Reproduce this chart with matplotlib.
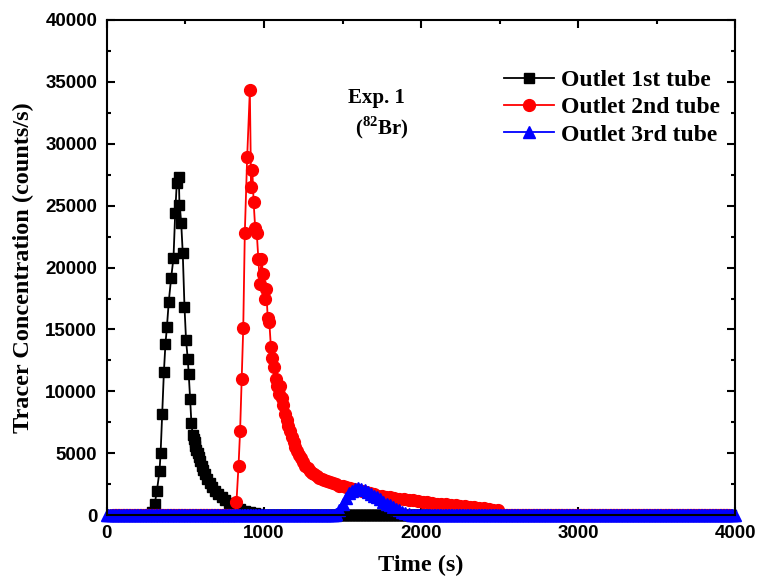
import matplotlib
matplotlib.use('Agg')
import matplotlib.pyplot as plt
from matplotlib.ticker import MultipleLocator
import numpy as np

# tracer readings (time in s, concentration in counts/s)
t_1st = [290, 304, 318, 335, 342, 352, 363, 373, 382, 394, 409, 424, 435, 445, 458, 462,
         473, 483, 494, 504, 515, 521, 530, 538, 546, 552, 558, 564, 570, 578, 586, 594,
         604, 614, 626, 640, 655, 670, 690, 710, 730, 750, 775, 800, 825, 850, 880, 910,
         940, 970, 1000]
c_1st = [300, 890, 1940, 3560, 5020, 8180, 11600, 13870, 15170, 17250, 19160, 20780, 24430,
         26830, 27310, 25020, 23620, 21160, 16840, 14140, 12580, 11390, 9390, 7450, 6500,
         6200, 5900, 5600, 5300, 5000, 4700, 4400, 4000, 3700, 3300, 2950, 2600, 2300, 1950,
         1700, 1450, 1250, 1000, 820, 650, 500, 370, 260, 170, 100, 40]

t_2nd = [825, 838, 848, 858, 868, 878, 893, 910, 918, 926, 934, 944, 954, 964, 974, 984,
         994, 1004, 1014, 1024, 1034, 1044, 1054, 1064, 1074, 1084, 1094, 1104, 1114, 1124,
         1134, 1144, 1154, 1164, 1176, 1188, 1200, 1212, 1224, 1236, 1250, 1264, 1278, 1292,
         1306, 1320, 1336, 1352, 1368, 1384, 1400, 1420, 1440, 1460, 1480, 1500, 1525, 1550,
         1575, 1600, 1625, 1650, 1675, 1700, 1725, 1750, 1775, 1800, 1830, 1860, 1890, 1920,
         1950, 1980, 2010, 2040, 2070, 2100, 2130, 2160, 2190, 2220, 2250, 2280, 2310, 2340,
         2370, 2400, 2430, 2460, 2490]
c_2nd = [1100, 4000, 6800, 11000, 15100, 22800, 28900, 34300, 26500, 27900, 25300, 23200,
         22800, 20700, 18700, 20700, 19500, 17500, 18300, 15900, 15600, 13600, 12700, 12000,
         11000, 10400, 9800, 10400, 9500, 8900, 8200, 7700, 7200, 6800, 6300, 5900, 5500,
         5200, 4900, 4600, 4300, 4000, 3800, 3600, 3400, 3300, 3150, 3050, 2950, 2850, 2800,
         2700, 2600, 2500, 2400, 2350, 2250, 2200, 2100, 2050, 2000, 1900, 1800, 1700, 1600,
         1550, 1500, 1450, 1400, 1350, 1300, 1250, 1200, 1150, 1100, 1050, 1000, 950, 920,
         880, 850, 800, 760, 720, 680, 640, 600, 560, 520, 470, 420]

t_3rd = [1460, 1480, 1500, 1520, 1540, 1560, 1580, 1600, 1620, 1640, 1660, 1680, 1700, 1720,
         1740, 1760, 1780, 1800, 1820, 1840, 1860, 1880, 1900, 1920, 1940]
c_3rd = [100, 400, 900, 1400, 1800, 2000, 2150, 2200, 2150, 2050, 1900, 1750, 1600, 1450,
         1300, 1100, 950, 800, 650, 500, 400, 280, 180, 100, 50]

# counter reads zero outside the pulses, logged every 10 s
t_log = np.arange(0, 4001, 10)


def with_baseline(t, c, start=0, stop=4000):
    t = np.asarray(t, float)
    c = np.asarray(c, float)
    before = t_log[(t_log >= start) & (t_log < t[0])]
    after = t_log[(t_log > t[-1]) & (t_log <= stop)]
    tt = np.concatenate([before, t, after])
    cc = np.concatenate([np.zeros(len(before)), c, np.zeros(len(after))])
    return tt, cc


plt.rcParams['mathtext.fontset'] = 'custom'
plt.rcParams['mathtext.bf'] = 'Liberation Serif:bold'
plt.rcParams['mathtext.rm'] = 'Liberation Serif:bold'

fig = plt.figure(figsize=(7.58, 5.81), dpi=100)
ax = fig.add_axes([0.141, 0.113, 0.829, 0.853])

x1, y1 = with_baseline(t_1st, c_1st, 30, 3970)
x2, y2 = with_baseline(t_2nd, c_2nd, 40, 3960)
x3, y3 = with_baseline(t_3rd, c_3rd)

ax.plot(x1, y1, color='black', lw=1.3, marker='s', ms=7, mec='black',
        clip_on=False, label='Outlet 1st tube')
ax.plot(x2, y2, color='red', lw=1.3, marker='o', ms=8.5, mec='red',
        clip_on=False, label='Outlet 2nd tube')
ax.plot(x3, y3, color='blue', lw=1.3, marker='^', ms=8, mec='blue',
        clip_on=False, label='Outlet 3rd tube')

ax.set_xlim(0, 4000)
ax.set_ylim(0, 40000)
ax.xaxis.set_major_locator(MultipleLocator(1000))
ax.xaxis.set_minor_locator(MultipleLocator(500))
ax.yaxis.set_major_locator(MultipleLocator(5000))
ax.yaxis.set_minor_locator(MultipleLocator(2500))
ax.tick_params(which='both', direction='in', top=True, right=True, width=1.5)
ax.tick_params(which='major', length=6)
ax.tick_params(which='minor', length=3)
ax.tick_params(axis='y', pad=7)
ax.tick_params(axis='x', pad=7)
for s in ax.spines.values():
    s.set_linewidth(1.5)
for lab in ax.get_xticklabels() + ax.get_yticklabels():
    lab.set_fontfamily('Liberation Sans')
    lab.set_fontweight('bold')
    lab.set_fontsize(13.5)

ax.set_xlabel('Time (s)', fontfamily='Liberation Serif', fontweight='bold', fontsize=17.5, labelpad=9)
ax.set_ylabel('Tracer Concentration (counts/s)', fontfamily='Liberation Serif',
              fontweight='bold', fontsize=17.5, labelpad=8)

ax.text(1715, 33700, 'Exp. 1', ha='center', va='center', fontfamily='Liberation Serif',
        fontweight='bold', fontsize=15)
ax.text(1747, 31250, r'($^{\mathbf{82}}$Br)', ha='center', va='center',
        fontfamily='Liberation Serif', fontweight='bold', fontsize=15)

ax.legend(loc='upper left', bbox_to_anchor=(0.632, 0.90), frameon=False, borderpad=0,
          borderaxespad=0, handlelength=2.1, handletextpad=0.3, labelspacing=0.25,
          numpoints=1, prop={'family': 'Liberation Serif', 'weight': 'bold', 'size': 17})

fig.savefig('out.png', dpi=100)
